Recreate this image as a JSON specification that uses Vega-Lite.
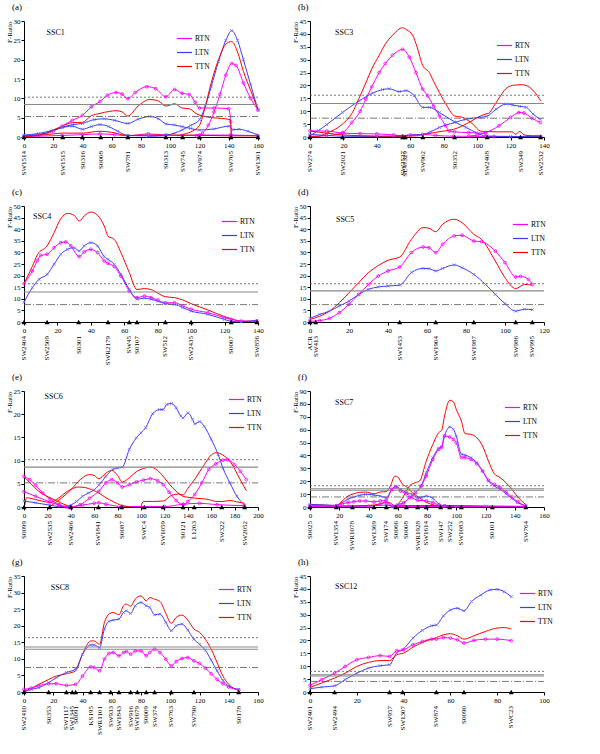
{
"$schema":"https://vega.github.io/schema/vega-lite/v6.json",
"background":"white",
"padding":{"left":5,"top":3,"right":0,"bottom":0},
"columns":2,
"spacing":{"row":69,"column":52},
"bounds":"flush",
"resolve":{"scale":{"color":"independent"}},
"config":{
 "view":{"stroke":null},
 "font":"Liberation Serif",
 "axis":{"labelFont":"Liberation Serif","labelFontSize":7,"labelColor":"black","domainColor":"black","tickColor":"black","grid":false,"tickSize":3,"labelPadding":1,"titleFont":"Liberation Serif","titleFontSize":7,"titleFontWeight":"normal","titleColor":"black","labelFlush":false,"labelOverlap":false},
 "axisX":{"title":null},
 "axisY":{"titleAnchor":"end","titlePadding":1},
 "title":{"font":"Liberation Serif","fontSize":9,"fontWeight":"normal","anchor":"start","frame":"group","dx":-12,"offset":5,"color":"black"},
 "legend":{"labelFont":"Liberation Serif","labelFontSize":7.5,"labelColor":"black","symbolType":"stroke","symbolSize":225,"symbolStrokeWidth":1.2,"rowPadding":2,"labelOffset":2},
 "text":{"color":"black","font":"Liberation Serif"}
},
"datasets":{
"a":[
{"t":"RTN","c":1,"x":0,"y":0.1},{"t":"RTN","c":1,"x":10,"y":0.5},{"t":"RTN","c":1,"x":20,"y":1.5},{"t":"RTN","c":1,"x":26,"y":2.8},{"t":"RTN","c":1,"x":33,"y":4.3},{"t":"RTN","c":1,"x":40,"y":5.6},{"t":"RTN","c":1,"x":46,"y":7.8},{"t":"RTN","c":1,"x":52,"y":9.2},{"t":"RTN","c":1,"x":57,"y":10.8},{"t":"RTN","c":1,"x":63,"y":11.5},{"t":"RTN","c":1,"x":67,"y":11.1},{"t":"RTN","c":1,"x":71,"y":9.9},{"t":"RTN","c":1,"x":76,"y":11.5},{"t":"RTN","c":1,"x":84,"y":13},{"t":"RTN","c":1,"x":90,"y":12.5},{"t":"RTN","c":1,"x":97,"y":10.4},{"t":"RTN","c":1,"x":103,"y":12.3},{"t":"RTN","c":1,"x":108,"y":11.3},{"t":"RTN","c":1,"x":113,"y":11},{"t":"RTN","c":1,"x":117,"y":9},{"t":"RTN","c":1,"x":120,"y":7.5},{"t":"RTN","c":1,"x":130,"y":7.5},{"t":"RTN","c":1,"x":140,"y":7.3},{"t":"RTN","c":1,"x":141.3,"y":4},{"t":"RTN","c":1,"x":141.8,"y":0.4},
{"t":"RTN","c":2,"x":118,"y":0.3},{"t":"RTN","c":2,"x":122,"y":1},{"t":"RTN","c":2,"x":126,"y":3},{"t":"RTN","c":2,"x":130,"y":6.5},{"t":"RTN","c":2,"x":134,"y":11},{"t":"RTN","c":2,"x":138,"y":16},{"t":"RTN","c":2,"x":142,"y":19},{"t":"RTN","c":2,"x":145,"y":18.5},{"t":"RTN","c":2,"x":150,"y":14},{"t":"RTN","c":2,"x":155,"y":10},{"t":"RTN","c":2,"x":160,"y":7},
{"t":"RTN","c":3,"x":0,"y":0.1},{"t":"RTN","c":3,"x":26,"y":0.4},{"t":"RTN","c":3,"x":40,"y":0.6},{"t":"RTN","c":3,"x":52,"y":0.8},{"t":"RTN","c":3,"x":62,"y":0.6},{"t":"RTN","c":3,"x":71,"y":0.3},{"t":"RTN","c":3,"x":85,"y":0.8},{"t":"RTN","c":3,"x":97,"y":0.5},{"t":"RTN","c":3,"x":108,"y":0.4},{"t":"RTN","c":3,"x":120,"y":0.5},{"t":"RTN","c":3,"x":141,"y":0.5},{"t":"RTN","c":3,"x":160,"y":0.3},
{"t":"LTN","c":1,"x":0,"y":0.5},{"t":"LTN","c":1,"x":10,"y":0.9},{"t":"LTN","c":1,"x":20,"y":1.8},{"t":"LTN","c":1,"x":26,"y":2.5},{"t":"LTN","c":1,"x":33,"y":3.2},{"t":"LTN","c":1,"x":40,"y":3.5},{"t":"LTN","c":1,"x":48,"y":4.5},{"t":"LTN","c":1,"x":55,"y":4.7},{"t":"LTN","c":1,"x":62,"y":4.3},{"t":"LTN","c":1,"x":71,"y":3.5},{"t":"LTN","c":1,"x":78,"y":4.6},{"t":"LTN","c":1,"x":86,"y":5.3},{"t":"LTN","c":1,"x":92,"y":4.7},{"t":"LTN","c":1,"x":97,"y":3.4},{"t":"LTN","c":1,"x":103,"y":3.1},{"t":"LTN","c":1,"x":108,"y":2.7},{"t":"LTN","c":1,"x":114,"y":2.2},{"t":"LTN","c":1,"x":120,"y":1.8},{"t":"LTN","c":1,"x":130,"y":2.1},{"t":"LTN","c":1,"x":140,"y":2.8},{"t":"LTN","c":1,"x":143,"y":1.9},{"t":"LTN","c":1,"x":147,"y":2},{"t":"LTN","c":1,"x":153,"y":1.5},{"t":"LTN","c":1,"x":160,"y":0.5},
{"t":"LTN","c":2,"x":0,"y":0.3},{"t":"LTN","c":2,"x":15,"y":1},{"t":"LTN","c":2,"x":26,"y":2.4},{"t":"LTN","c":2,"x":33,"y":2.8},{"t":"LTN","c":2,"x":40,"y":2},{"t":"LTN","c":2,"x":46,"y":2.7},{"t":"LTN","c":2,"x":52,"y":3.2},{"t":"LTN","c":2,"x":58,"y":2.7},{"t":"LTN","c":2,"x":64,"y":1.5},{"t":"LTN","c":2,"x":71,"y":0.4},{"t":"LTN","c":2,"x":85,"y":0.3},{"t":"LTN","c":2,"x":97,"y":0.3},
{"t":"LTN","c":3,"x":85,"y":0.2},{"t":"LTN","c":3,"x":97,"y":0.5},{"t":"LTN","c":3,"x":103,"y":1},{"t":"LTN","c":3,"x":108,"y":1.8},{"t":"LTN","c":3,"x":114,"y":3},{"t":"LTN","c":3,"x":120,"y":4.5},{"t":"LTN","c":3,"x":124,"y":8},{"t":"LTN","c":3,"x":128,"y":13},{"t":"LTN","c":3,"x":133,"y":19.5},{"t":"LTN","c":3,"x":138,"y":25},{"t":"LTN","c":3,"x":142,"y":27.5},{"t":"LTN","c":3,"x":146,"y":25},{"t":"LTN","c":3,"x":150,"y":20},{"t":"LTN","c":3,"x":155,"y":13.5},{"t":"LTN","c":3,"x":160,"y":7},
{"t":"TTN","c":1,"x":0,"y":0.2},{"t":"TTN","c":1,"x":10,"y":0.5},{"t":"TTN","c":1,"x":20,"y":1.8},{"t":"TTN","c":1,"x":26,"y":2.8},{"t":"TTN","c":1,"x":33,"y":3.7},{"t":"TTN","c":1,"x":40,"y":3.8},{"t":"TTN","c":1,"x":46,"y":5.5},{"t":"TTN","c":1,"x":52,"y":6.1},{"t":"TTN","c":1,"x":58,"y":6.6},{"t":"TTN","c":1,"x":63,"y":6.8},{"t":"TTN","c":1,"x":67,"y":6.5},{"t":"TTN","c":1,"x":71,"y":5.4},{"t":"TTN","c":1,"x":78,"y":8},{"t":"TTN","c":1,"x":86,"y":9.7},{"t":"TTN","c":1,"x":92,"y":9.3},{"t":"TTN","c":1,"x":97,"y":8},{"t":"TTN","c":1,"x":103,"y":8.6},{"t":"TTN","c":1,"x":108,"y":7.5},{"t":"TTN","c":1,"x":113,"y":7.3},{"t":"TTN","c":1,"x":118,"y":6},{"t":"TTN","c":1,"x":125,"y":5.2},{"t":"TTN","c":1,"x":135,"y":4.8},{"t":"TTN","c":1,"x":141,"y":4.5},{"t":"TTN","c":1,"x":141.8,"y":0.3},
{"t":"TTN","c":2,"x":105,"y":0.3},{"t":"TTN","c":2,"x":110,"y":0.8},{"t":"TTN","c":2,"x":115,"y":1.5},{"t":"TTN","c":2,"x":120,"y":3},{"t":"TTN","c":2,"x":124,"y":8},{"t":"TTN","c":2,"x":128,"y":14},{"t":"TTN","c":2,"x":133,"y":20},{"t":"TTN","c":2,"x":138,"y":24},{"t":"TTN","c":2,"x":142,"y":24.7},{"t":"TTN","c":2,"x":146,"y":22},{"t":"TTN","c":2,"x":150,"y":17},{"t":"TTN","c":2,"x":155,"y":12},{"t":"TTN","c":2,"x":160,"y":7},
{"t":"TTN","c":3,"x":0,"y":0.1},{"t":"TTN","c":3,"x":20,"y":0.8},{"t":"TTN","c":3,"x":26,"y":1},{"t":"TTN","c":3,"x":40,"y":1},{"t":"TTN","c":3,"x":52,"y":1.5},{"t":"TTN","c":3,"x":60,"y":1.2},{"t":"TTN","c":3,"x":71,"y":0.4},{"t":"TTN","c":3,"x":85,"y":0.5},{"t":"TTN","c":3,"x":108,"y":0.5},{"t":"TTN","c":3,"x":141,"y":0.3},{"t":"TTN","c":3,"x":160,"y":0.3}
],
"a_m":[{"m":"SW1514","x":0},{"m":"SW1515","x":26.5},{"m":"S0316","x":40},{"m":"S0008","x":52.5},{"m":"SW781","x":71},{"m":"S0313","x":97},{"m":"SW745","x":108.5},{"m":"SW974","x":120},{"m":"SW705","x":141.5},{"m":"SW1301","x":160}],
"a_t":[{"k":"dot","y":10.3},{"k":"solid","y":8.4},{"k":"dash","y":5.3}],
"b":[
{"t":"RTN","c":1,"x":0,"y":0.2},{"t":"RTN","c":1,"x":10,"y":0.5},{"t":"RTN","c":1,"x":19.4,"y":1.7},{"t":"RTN","c":1,"x":25,"y":5.6},{"t":"RTN","c":1,"x":30,"y":10},{"t":"RTN","c":1,"x":33.4,"y":14.7},{"t":"RTN","c":1,"x":37,"y":19.5},{"t":"RTN","c":1,"x":41.4,"y":25},{"t":"RTN","c":1,"x":45,"y":28.5},{"t":"RTN","c":1,"x":49.4,"y":31.7},{"t":"RTN","c":1,"x":55.4,"y":34},{"t":"RTN","c":1,"x":59.4,"y":31},{"t":"RTN","c":1,"x":63.4,"y":25},{"t":"RTN","c":1,"x":67.4,"y":18.6},{"t":"RTN","c":1,"x":70.4,"y":16},{"t":"RTN","c":1,"x":74,"y":12},{"t":"RTN","c":1,"x":77.4,"y":8.2},{"t":"RTN","c":1,"x":81,"y":4.5},{"t":"RTN","c":1,"x":83.4,"y":2.3},{"t":"RTN","c":1,"x":86.4,"y":2},{"t":"RTN","c":1,"x":95,"y":1.7},{"t":"RTN","c":1,"x":105,"y":1.5},
{"t":"RTN","c":2,"x":95,"y":0.3},{"t":"RTN","c":2,"x":100,"y":0.8},{"t":"RTN","c":2,"x":105,"y":1.7},{"t":"RTN","c":2,"x":113,"y":4.3},{"t":"RTN","c":2,"x":120,"y":7.6},{"t":"RTN","c":2,"x":125,"y":9.5},{"t":"RTN","c":2,"x":128,"y":9.3},{"t":"RTN","c":2,"x":133,"y":7.2},{"t":"RTN","c":2,"x":137.8,"y":5.6},
{"t":"RTN","c":3,"x":0,"y":2.4},{"t":"RTN","c":3,"x":10,"y":2.3},{"t":"RTN","c":3,"x":20,"y":1.5},{"t":"RTN","c":3,"x":30,"y":1.3},{"t":"RTN","c":3,"x":40,"y":1.2},{"t":"RTN","c":3,"x":50,"y":0.8},{"t":"RTN","c":3,"x":55.4,"y":0.5},{"t":"RTN","c":3,"x":60,"y":0.8},{"t":"RTN","c":3,"x":67.4,"y":1},{"t":"RTN","c":3,"x":75,"y":0.6},{"t":"RTN","c":3,"x":86,"y":0.3},{"t":"RTN","c":3,"x":110,"y":0.2},{"t":"RTN","c":3,"x":138,"y":0.2},
{"t":"LTN","c":1,"x":0,"y":0.5},{"t":"LTN","c":1,"x":5,"y":2.5},{"t":"LTN","c":1,"x":10,"y":4.8},{"t":"LTN","c":1,"x":19.4,"y":9.5},{"t":"LTN","c":1,"x":29.4,"y":14},{"t":"LTN","c":1,"x":37.4,"y":17},{"t":"LTN","c":1,"x":43.4,"y":18.4},{"t":"LTN","c":1,"x":47.4,"y":18.7},{"t":"LTN","c":1,"x":53.4,"y":17.6},{"t":"LTN","c":1,"x":57.4,"y":18},{"t":"LTN","c":1,"x":62.4,"y":16},{"t":"LTN","c":1,"x":67.4,"y":11.5},{"t":"LTN","c":1,"x":71.4,"y":11.5},{"t":"LTN","c":1,"x":77.4,"y":9.5},{"t":"LTN","c":1,"x":86.4,"y":5.9},{"t":"LTN","c":1,"x":93.4,"y":3.7},{"t":"LTN","c":1,"x":99.4,"y":1.7},{"t":"LTN","c":1,"x":105.4,"y":0.4},{"t":"LTN","c":1,"x":120,"y":0.2},{"t":"LTN","c":1,"x":138,"y":0.2},
{"t":"LTN","c":2,"x":50,"y":0.3},{"t":"LTN","c":2,"x":59,"y":0.6},{"t":"LTN","c":2,"x":67.4,"y":1},{"t":"LTN","c":2,"x":72,"y":2},{"t":"LTN","c":2,"x":77.4,"y":3.7},{"t":"LTN","c":2,"x":86.4,"y":5.6},{"t":"LTN","c":2,"x":93.4,"y":6.9},{"t":"LTN","c":2,"x":101.4,"y":7.6},{"t":"LTN","c":2,"x":105.8,"y":8},{"t":"LTN","c":2,"x":111.4,"y":10.8},{"t":"LTN","c":2,"x":117.4,"y":12.8},{"t":"LTN","c":2,"x":121.4,"y":12.4},{"t":"LTN","c":2,"x":125.4,"y":11.9},{"t":"LTN","c":2,"x":129.4,"y":11.5},{"t":"LTN","c":2,"x":133.4,"y":8.9},{"t":"LTN","c":2,"x":137.8,"y":6.9},
{"t":"LTN","c":3,"x":0,"y":1},{"t":"LTN","c":3,"x":10,"y":0.6},{"t":"LTN","c":3,"x":20,"y":0.3},{"t":"LTN","c":3,"x":40,"y":0.2},{"t":"LTN","c":3,"x":55,"y":0.3},
{"t":"TTN","c":1,"x":0,"y":0.2},{"t":"TTN","c":1,"x":5,"y":0.3},{"t":"TTN","c":1,"x":10,"y":1.5},{"t":"TTN","c":1,"x":19.4,"y":5},{"t":"TTN","c":1,"x":25.4,"y":9.5},{"t":"TTN","c":1,"x":29,"y":14.5},{"t":"TTN","c":1,"x":33.4,"y":21},{"t":"TTN","c":1,"x":37,"y":26.5},{"t":"TTN","c":1,"x":41.4,"y":31.7},{"t":"TTN","c":1,"x":45,"y":36},{"t":"TTN","c":1,"x":49.4,"y":39.5},{"t":"TTN","c":1,"x":55.4,"y":42.4},{"t":"TTN","c":1,"x":58,"y":41.5},{"t":"TTN","c":1,"x":61.4,"y":39.5},{"t":"TTN","c":1,"x":64,"y":35},{"t":"TTN","c":1,"x":67.4,"y":27.8},{"t":"TTN","c":1,"x":71.4,"y":25},{"t":"TTN","c":1,"x":74,"y":21.5},{"t":"TTN","c":1,"x":77.4,"y":17.3},{"t":"TTN","c":1,"x":82,"y":12},{"t":"TTN","c":1,"x":86.4,"y":8.2},{"t":"TTN","c":1,"x":91.4,"y":7.6},{"t":"TTN","c":1,"x":97.4,"y":5},{"t":"TTN","c":1,"x":102,"y":2.3},{"t":"TTN","c":1,"x":105.8,"y":2.1},{"t":"TTN","c":1,"x":113,"y":2},{"t":"TTN","c":1,"x":121,"y":2},{"t":"TTN","c":1,"x":123,"y":1},{"t":"TTN","c":1,"x":125.4,"y":2.2},{"t":"TTN","c":1,"x":128,"y":0.8},{"t":"TTN","c":1,"x":133,"y":0.5},{"t":"TTN","c":1,"x":138,"y":0.5},
{"t":"TTN","c":2,"x":65,"y":0.6},{"t":"TTN","c":2,"x":75,"y":1.8},{"t":"TTN","c":2,"x":80,"y":2.3},{"t":"TTN","c":2,"x":86,"y":3},{"t":"TTN","c":2,"x":95,"y":5.6},{"t":"TTN","c":2,"x":100,"y":7.5},{"t":"TTN","c":2,"x":105,"y":8.9},{"t":"TTN","c":2,"x":107,"y":9.2},{"t":"TTN","c":2,"x":110,"y":12},{"t":"TTN","c":2,"x":114,"y":16},{"t":"TTN","c":2,"x":117,"y":18.6},{"t":"TTN","c":2,"x":121,"y":20},{"t":"TTN","c":2,"x":124,"y":20.2},{"t":"TTN","c":2,"x":127,"y":20.3},{"t":"TTN","c":2,"x":130,"y":19.8},{"t":"TTN","c":2,"x":133,"y":18.4},{"t":"TTN","c":2,"x":136,"y":16},{"t":"TTN","c":2,"x":138,"y":14},
{"t":"TTN","c":3,"x":0,"y":2.3},{"t":"TTN","c":3,"x":10,"y":1.5},{"t":"TTN","c":3,"x":20,"y":0.8},{"t":"TTN","c":3,"x":30,"y":0.5},{"t":"TTN","c":3,"x":55,"y":0.3},{"t":"TTN","c":3,"x":65,"y":0.5}
],
"b_m":[{"m":"SW274","x":0},{"m":"SW2021","x":19.5},{"m":"SW2527","x":55.4},{"m":"SE47329","x":57},{"m":"SW902","x":67.5},{"m":"S0352","x":86.5},{"m":"SW2408","x":106},{"m":"SW349","x":126},{"m":"SW2532","x":138}],
"b_t":[{"k":"dot","y":16.2},{"k":"solid","y":13},{"k":"dash","y":7.3}],
"c":[
{"t":"TTN","c":1,"x":0,"y":16.5},{"t":"TTN","c":1,"x":5,"y":24},{"t":"TTN","c":1,"x":8,"y":29},{"t":"TTN","c":1,"x":13.8,"y":32.8},{"t":"TTN","c":1,"x":18,"y":38.5},{"t":"TTN","c":1,"x":22,"y":44.5},{"t":"TTN","c":1,"x":26,"y":46.8},{"t":"TTN","c":1,"x":30,"y":46},{"t":"TTN","c":1,"x":33,"y":43.5},{"t":"TTN","c":1,"x":36,"y":45.7},{"t":"TTN","c":1,"x":40,"y":47.4},{"t":"TTN","c":1,"x":44,"y":46},{"t":"TTN","c":1,"x":48,"y":41.4},{"t":"TTN","c":1,"x":50.3,"y":37},{"t":"TTN","c":1,"x":54,"y":35.6},{"t":"TTN","c":1,"x":58,"y":29.9},{"t":"TTN","c":1,"x":63,"y":21.3},{"t":"TTN","c":1,"x":67.6,"y":14},{"t":"TTN","c":1,"x":72,"y":14.4},{"t":"TTN","c":1,"x":76,"y":14},{"t":"TTN","c":1,"x":80,"y":12.4},{"t":"TTN","c":1,"x":84.6,"y":10.9},{"t":"TTN","c":1,"x":90,"y":10.5},{"t":"TTN","c":1,"x":95,"y":9.5},{"t":"TTN","c":1,"x":100,"y":7.9},{"t":"TTN","c":1,"x":110,"y":5.2},{"t":"TTN","c":1,"x":120,"y":2.3},{"t":"TTN","c":1,"x":124,"y":1.4},{"t":"TTN","c":1,"x":130,"y":0.4},{"t":"TTN","c":1,"x":139.4,"y":0.3},
{"t":"RTN","c":1,"x":0,"y":16.5},{"t":"RTN","c":1,"x":5,"y":22},{"t":"RTN","c":1,"x":8,"y":26.5},{"t":"RTN","c":1,"x":10,"y":28.7},{"t":"RTN","c":1,"x":13.8,"y":29.2},{"t":"RTN","c":1,"x":18,"y":32},{"t":"RTN","c":1,"x":22,"y":34.2},{"t":"RTN","c":1,"x":25,"y":34.5},{"t":"RTN","c":1,"x":28,"y":32.8},{"t":"RTN","c":1,"x":33,"y":28.2},{"t":"RTN","c":1,"x":36,"y":30.2},{"t":"RTN","c":1,"x":40,"y":31.3},{"t":"RTN","c":1,"x":44,"y":29.9},{"t":"RTN","c":1,"x":48,"y":26.3},{"t":"RTN","c":1,"x":50.3,"y":25.3},{"t":"RTN","c":1,"x":54,"y":23.9},{"t":"RTN","c":1,"x":58,"y":19.8},{"t":"RTN","c":1,"x":63,"y":13.4},{"t":"RTN","c":1,"x":67.6,"y":10.5},{"t":"RTN","c":1,"x":72,"y":11.2},{"t":"RTN","c":1,"x":76,"y":10.5},{"t":"RTN","c":1,"x":80,"y":9.5},{"t":"RTN","c":1,"x":84.6,"y":8.3},{"t":"RTN","c":1,"x":90,"y":8.3},{"t":"RTN","c":1,"x":95,"y":6.9},{"t":"RTN","c":1,"x":100,"y":5.5},{"t":"RTN","c":1,"x":110,"y":4},{"t":"RTN","c":1,"x":120,"y":1.9},{"t":"RTN","c":1,"x":124,"y":1.1},{"t":"RTN","c":1,"x":130,"y":0.4},{"t":"RTN","c":1,"x":139.4,"y":0.3},
{"t":"LTN","c":1,"x":0,"y":8.5},{"t":"LTN","c":1,"x":5,"y":14.8},{"t":"LTN","c":1,"x":9,"y":18.4},{"t":"LTN","c":1,"x":13.8,"y":20.5},{"t":"LTN","c":1,"x":18,"y":24.9},{"t":"LTN","c":1,"x":22,"y":29.2},{"t":"LTN","c":1,"x":26,"y":31.3},{"t":"LTN","c":1,"x":30,"y":32},{"t":"LTN","c":1,"x":33,"y":30.6},{"t":"LTN","c":1,"x":36,"y":32.8},{"t":"LTN","c":1,"x":40,"y":34.2},{"t":"LTN","c":1,"x":44,"y":32.8},{"t":"LTN","c":1,"x":48,"y":28.2},{"t":"LTN","c":1,"x":50.3,"y":27},{"t":"LTN","c":1,"x":54,"y":24.9},{"t":"LTN","c":1,"x":58,"y":20.5},{"t":"LTN","c":1,"x":63,"y":14.1},{"t":"LTN","c":1,"x":67.6,"y":9.8},{"t":"LTN","c":1,"x":72,"y":10.3},{"t":"LTN","c":1,"x":76,"y":9.8},{"t":"LTN","c":1,"x":80,"y":9},{"t":"LTN","c":1,"x":84.6,"y":7.9},{"t":"LTN","c":1,"x":90,"y":7.6},{"t":"LTN","c":1,"x":95,"y":6.2},{"t":"LTN","c":1,"x":100,"y":4.7},{"t":"LTN","c":1,"x":110,"y":3.3},{"t":"LTN","c":1,"x":120,"y":1.1},{"t":"LTN","c":1,"x":124,"y":0.3},{"t":"LTN","c":1,"x":130,"y":0.1},{"t":"LTN","c":1,"x":139.4,"y":0.8}
],
"c_m":[{"m":"SW2404","x":0},{"m":"SW2509","x":13.8},{"m":"S0301","x":32.7},{"m":"SWR2179","x":50.3},{"m":"SW45","x":63},{"m":"S0107","x":67.6},{"m":"SW512","x":84.6},{"m":"SW2435","x":100},{"m":"S0007","x":124},{"m":"SW856","x":139.4}],
"c_t":[{"k":"dot","y":16.5},{"k":"solid","y":12.9},{"k":"dash","y":7.5}],
"d":[
{"t":"TTN","c":1,"x":0,"y":1.1},{"t":"TTN","c":1,"x":5,"y":2.5},{"t":"TTN","c":1,"x":10,"y":4.7},{"t":"TTN","c":1,"x":15,"y":8.3},{"t":"TTN","c":1,"x":20,"y":12.6},{"t":"TTN","c":1,"x":25,"y":17},{"t":"TTN","c":1,"x":30,"y":21.3},{"t":"TTN","c":1,"x":35,"y":24.3},{"t":"TTN","c":1,"x":40,"y":26.6},{"t":"TTN","c":1,"x":46,"y":28},{"t":"TTN","c":1,"x":52,"y":35.6},{"t":"TTN","c":1,"x":58,"y":40.7},{"t":"TTN","c":1,"x":61,"y":40.4},{"t":"TTN","c":1,"x":64.5,"y":38.9},{"t":"TTN","c":1,"x":68,"y":42.1},{"t":"TTN","c":1,"x":74,"y":44.3},{"t":"TTN","c":1,"x":78,"y":42.8},{"t":"TTN","c":1,"x":84,"y":37.8},{"t":"TTN","c":1,"x":88,"y":35.6},{"t":"TTN","c":1,"x":95,"y":26.3},{"t":"TTN","c":1,"x":100,"y":19.1},{"t":"TTN","c":1,"x":105.5,"y":14.4},{"t":"TTN","c":1,"x":110,"y":16.2},{"t":"TTN","c":1,"x":114,"y":15.9},
{"t":"RTN","c":1,"x":0,"y":0.3},{"t":"RTN","c":1,"x":5,"y":0.6},{"t":"RTN","c":1,"x":10,"y":1.6},{"t":"RTN","c":1,"x":15,"y":4},{"t":"RTN","c":1,"x":20,"y":7.6},{"t":"RTN","c":1,"x":25,"y":11.9},{"t":"RTN","c":1,"x":30,"y":16.2},{"t":"RTN","c":1,"x":35,"y":19.8},{"t":"RTN","c":1,"x":40,"y":22},{"t":"RTN","c":1,"x":46,"y":23.7},{"t":"RTN","c":1,"x":52,"y":29.9},{"t":"RTN","c":1,"x":58,"y":32.3},{"t":"RTN","c":1,"x":61,"y":32},{"t":"RTN","c":1,"x":64.5,"y":29.9},{"t":"RTN","c":1,"x":68,"y":33.5},{"t":"RTN","c":1,"x":74,"y":37.1},{"t":"RTN","c":1,"x":78,"y":37.4},{"t":"RTN","c":1,"x":84,"y":34.9},{"t":"RTN","c":1,"x":88,"y":34.6},{"t":"RTN","c":1,"x":95,"y":30.6},{"t":"RTN","c":1,"x":100,"y":25.6},{"t":"RTN","c":1,"x":105.5,"y":19.4},{"t":"RTN","c":1,"x":108,"y":19.7},{"t":"RTN","c":1,"x":112,"y":18.4},{"t":"RTN","c":1,"x":114,"y":16.2},
{"t":"LTN","c":1,"x":0,"y":1.6},{"t":"LTN","c":1,"x":5,"y":3.3},{"t":"LTN","c":1,"x":10,"y":4.7},{"t":"LTN","c":1,"x":15,"y":6.9},{"t":"LTN","c":1,"x":20,"y":9},{"t":"LTN","c":1,"x":25,"y":11.9},{"t":"LTN","c":1,"x":30,"y":14.1},{"t":"LTN","c":1,"x":35,"y":15.1},{"t":"LTN","c":1,"x":40,"y":15.5},{"t":"LTN","c":1,"x":46,"y":15.9},{"t":"LTN","c":1,"x":52,"y":21.3},{"t":"LTN","c":1,"x":58,"y":23.1},{"t":"LTN","c":1,"x":61,"y":23},{"t":"LTN","c":1,"x":64.5,"y":22},{"t":"LTN","c":1,"x":68,"y":23.1},{"t":"LTN","c":1,"x":74,"y":24.6},{"t":"LTN","c":1,"x":78,"y":23.4},{"t":"LTN","c":1,"x":84,"y":20.5},{"t":"LTN","c":1,"x":90,"y":16.2},{"t":"LTN","c":1,"x":95,"y":11.9},{"t":"LTN","c":1,"x":100,"y":7.9},{"t":"LTN","c":1,"x":105.5,"y":4.7},{"t":"LTN","c":1,"x":110,"y":5.5},{"t":"LTN","c":1,"x":114,"y":5.3}
],
"d_m":[{"m":"ACR","x":0},{"m":"SW413","x":2.9},{"m":"SW1453","x":46},{"m":"SW1904","x":64.5},{"m":"SW1987","x":84},{"m":"SW986","x":105.5},{"m":"SW995","x":114}],
"d_t":[{"k":"dot","y":16.5},{"k":"solid","y":13.4},{"k":"dash","y":7.5}],
"e":[
{"t":"LTN","c":1,"x":38,"y":0.1},{"t":"LTN","c":1,"x":40,"y":0.4},{"t":"LTN","c":1,"x":45,"y":1.2},{"t":"LTN","c":1,"x":50,"y":2.3},{"t":"LTN","c":1,"x":55,"y":3},{"t":"LTN","c":1,"x":60,"y":3.7},{"t":"LTN","c":1,"x":64,"y":4.7},{"t":"LTN","c":1,"x":70,"y":6.6},{"t":"LTN","c":1,"x":76,"y":8.1},{"t":"LTN","c":1,"x":80,"y":8.4},{"t":"LTN","c":1,"x":84,"y":8.6},{"t":"LTN","c":1,"x":90,"y":12.4},{"t":"LTN","c":1,"x":96,"y":14.9},{"t":"LTN","c":1,"x":100,"y":16},{"t":"LTN","c":1,"x":104,"y":17.1},{"t":"LTN","c":1,"x":110,"y":20.1},{"t":"LTN","c":1,"x":116,"y":21},{"t":"LTN","c":1,"x":119,"y":21},{"t":"LTN","c":1,"x":122,"y":22.1},{"t":"LTN","c":1,"x":126,"y":22.3},{"t":"LTN","c":1,"x":130,"y":21.4},{"t":"LTN","c":1,"x":134,"y":19.6},{"t":"LTN","c":1,"x":136,"y":19.2},{"t":"LTN","c":1,"x":140,"y":20.3},{"t":"LTN","c":1,"x":144,"y":18.9},{"t":"LTN","c":1,"x":146,"y":17.9},{"t":"LTN","c":1,"x":150,"y":18.4},{"t":"LTN","c":1,"x":154,"y":17.4},{"t":"LTN","c":1,"x":160,"y":14.6},{"t":"LTN","c":1,"x":166,"y":11.3},{"t":"LTN","c":1,"x":170,"y":8.4},{"t":"LTN","c":1,"x":176,"y":5.2},{"t":"LTN","c":1,"x":182,"y":2.3},{"t":"LTN","c":1,"x":188.6,"y":0.4},
{"t":"LTN","c":2,"x":0,"y":1.3},{"t":"LTN","c":2,"x":10,"y":0.9},{"t":"LTN","c":2,"x":22,"y":0.4},{"t":"LTN","c":2,"x":30,"y":0.1},{"t":"LTN","c":2,"x":40,"y":0.05},
{"t":"RTN","c":1,"x":0,"y":6.6},{"t":"RTN","c":1,"x":5,"y":5.9},{"t":"RTN","c":1,"x":10,"y":4.7},{"t":"RTN","c":1,"x":16,"y":3},{"t":"RTN","c":1,"x":22,"y":1.8},{"t":"RTN","c":1,"x":30,"y":0.5},{"t":"RTN","c":1,"x":36,"y":0},
{"t":"RTN","c":2,"x":0,"y":3.3},{"t":"RTN","c":2,"x":10,"y":2.3},{"t":"RTN","c":2,"x":22,"y":1.1},{"t":"RTN","c":2,"x":30,"y":0.4},{"t":"RTN","c":2,"x":38,"y":0},
{"t":"RTN","c":3,"x":40,"y":0},{"t":"RTN","c":3,"x":48,"y":0.5},{"t":"RTN","c":3,"x":56,"y":1.9},{"t":"RTN","c":3,"x":64,"y":3.4},{"t":"RTN","c":3,"x":70,"y":5.2},{"t":"RTN","c":3,"x":75,"y":5.9},{"t":"RTN","c":3,"x":80,"y":5.2},{"t":"RTN","c":3,"x":84,"y":4.3},{"t":"RTN","c":3,"x":90,"y":4.8},{"t":"RTN","c":3,"x":96,"y":5.4},{"t":"RTN","c":3,"x":102,"y":5.8},{"t":"RTN","c":3,"x":108,"y":6.1},{"t":"RTN","c":3,"x":114,"y":5.7},{"t":"RTN","c":3,"x":119,"y":4.8},{"t":"RTN","c":3,"x":124,"y":3.2},{"t":"RTN","c":3,"x":130,"y":1.4},{"t":"RTN","c":3,"x":136,"y":0.5},{"t":"RTN","c":3,"x":140,"y":1.2},{"t":"RTN","c":3,"x":146,"y":2.7},{"t":"RTN","c":3,"x":152,"y":5.2},{"t":"RTN","c":3,"x":158,"y":8.1},{"t":"RTN","c":3,"x":164,"y":9.3},{"t":"RTN","c":3,"x":170,"y":10.1},{"t":"RTN","c":3,"x":174,"y":10.2},{"t":"RTN","c":3,"x":180,"y":9.1},{"t":"RTN","c":3,"x":185,"y":7.7},{"t":"RTN","c":3,"x":190,"y":5.9},
{"t":"RTN","c":4,"x":40,"y":0},{"t":"RTN","c":4,"x":50,"y":0.4},{"t":"RTN","c":4,"x":60,"y":0.8},{"t":"RTN","c":4,"x":64,"y":0.9},{"t":"RTN","c":4,"x":70,"y":0.6},{"t":"RTN","c":4,"x":84,"y":0.1},{"t":"RTN","c":4,"x":120,"y":0.1},{"t":"RTN","c":4,"x":136,"y":0.6},{"t":"RTN","c":4,"x":150,"y":0.8},{"t":"RTN","c":4,"x":165,"y":0.5},{"t":"RTN","c":4,"x":188,"y":0.3},
{"t":"TTN","c":1,"x":0,"y":6.5},{"t":"TTN","c":1,"x":6,"y":5},{"t":"TTN","c":1,"x":12,"y":3.5},{"t":"TTN","c":1,"x":18,"y":2.5},{"t":"TTN","c":1,"x":22,"y":2},{"t":"TTN","c":1,"x":28,"y":1.3},{"t":"TTN","c":1,"x":34,"y":0.6},{"t":"TTN","c":1,"x":40,"y":0.1},
{"t":"TTN","c":2,"x":1,"y":0.5},{"t":"TTN","c":2,"x":2,"y":2},{"t":"TTN","c":2,"x":10,"y":1.6},{"t":"TTN","c":2,"x":22,"y":1},{"t":"TTN","c":2,"x":30,"y":2},{"t":"TTN","c":2,"x":36,"y":3.2},{"t":"TTN","c":2,"x":40,"y":3.8},{"t":"TTN","c":2,"x":46,"y":4.3},{"t":"TTN","c":2,"x":52,"y":4.2},{"t":"TTN","c":2,"x":58,"y":3.7},{"t":"TTN","c":2,"x":64,"y":3},{"t":"TTN","c":2,"x":70,"y":2},{"t":"TTN","c":2,"x":76,"y":1.2},{"t":"TTN","c":2,"x":84,"y":0.3},{"t":"TTN","c":2,"x":90,"y":0.1},
{"t":"TTN","c":3,"x":22,"y":0.1},{"t":"TTN","c":3,"x":30,"y":1.5},{"t":"TTN","c":3,"x":40,"y":3.7},{"t":"TTN","c":3,"x":48,"y":5.9},{"t":"TTN","c":3,"x":56,"y":7},{"t":"TTN","c":3,"x":60,"y":6.8},{"t":"TTN","c":3,"x":64,"y":6.1},{"t":"TTN","c":3,"x":70,"y":7.3},{"t":"TTN","c":3,"x":75,"y":7.9},{"t":"TTN","c":3,"x":80,"y":6.8},{"t":"TTN","c":3,"x":84,"y":5.4},{"t":"TTN","c":3,"x":90,"y":6.3},{"t":"TTN","c":3,"x":96,"y":7.6},{"t":"TTN","c":3,"x":102,"y":8.3},{"t":"TTN","c":3,"x":108,"y":8.6},{"t":"TTN","c":3,"x":114,"y":7.9},{"t":"TTN","c":3,"x":119,"y":6.6},{"t":"TTN","c":3,"x":124,"y":5},{"t":"TTN","c":3,"x":130,"y":3.4},{"t":"TTN","c":3,"x":136,"y":2.3},{"t":"TTN","c":3,"x":140,"y":2.1},{"t":"TTN","c":3,"x":146,"y":1.9},{"t":"TTN","c":3,"x":152,"y":1.8},{"t":"TTN","c":3,"x":158,"y":1.6},{"t":"TTN","c":3,"x":164,"y":1.2},{"t":"TTN","c":3,"x":170,"y":1.2},{"t":"TTN","c":3,"x":176,"y":1.4},{"t":"TTN","c":3,"x":182,"y":1.1},{"t":"TTN","c":3,"x":188.6,"y":0.8},
{"t":"TTN","c":4,"x":100,"y":0.1},{"t":"TTN","c":4,"x":102,"y":1.2},{"t":"TTN","c":4,"x":110,"y":1.2},{"t":"TTN","c":4,"x":119,"y":1.3},{"t":"TTN","c":4,"x":126,"y":2.5},{"t":"TTN","c":4,"x":132,"y":2.8},{"t":"TTN","c":4,"x":136,"y":2.6},{"t":"TTN","c":4,"x":140,"y":4},{"t":"TTN","c":4,"x":146,"y":6},{"t":"TTN","c":4,"x":154,"y":9.1},{"t":"TTN","c":4,"x":160,"y":11.2},{"t":"TTN","c":4,"x":164,"y":11.7},{"t":"TTN","c":4,"x":170,"y":11.2},{"t":"TTN","c":4,"x":177,"y":9.5},{"t":"TTN","c":4,"x":184,"y":6.3},{"t":"TTN","c":4,"x":190,"y":3.5}
],
"e_m":[{"m":"S0099","x":0},{"m":"SW2535","x":22},{"m":"SW2406","x":40},{"m":"SW1841","x":63.6},{"m":"S0087","x":83.5},{"m":"SWC4","x":102.8},{"m":"SW1059","x":119},{"m":"S0121","x":136},{"m":"L1203","x":145.5},{"m":"SW322","x":169},{"m":"SW2052","x":188.6}],
"e_t":[{"k":"dot","y":10.2},{"k":"solid","y":8.6},{"k":"dash","y":5.2}],
"f":[
{"t":"TTN","c":1,"x":0,"y":2},{"t":"TTN","c":1,"x":10,"y":1.5},{"t":"TTN","c":1,"x":18,"y":1.2},{"t":"TTN","c":1,"x":22,"y":4.7},{"t":"TTN","c":1,"x":26,"y":8.5},{"t":"TTN","c":1,"x":30,"y":10.3},{"t":"TTN","c":1,"x":34,"y":11.4},{"t":"TTN","c":1,"x":38,"y":11.6},{"t":"TTN","c":1,"x":43.8,"y":10.3},{"t":"TTN","c":1,"x":48,"y":11.6},{"t":"TTN","c":1,"x":52,"y":11.9},{"t":"TTN","c":1,"x":55,"y":16.3},{"t":"TTN","c":1,"x":58,"y":24},{"t":"TTN","c":1,"x":60,"y":23.3},{"t":"TTN","c":1,"x":63,"y":18.1},{"t":"TTN","c":1,"x":66,"y":15.5},{"t":"TTN","c":1,"x":70,"y":11.1},{"t":"TTN","c":1,"x":75,"y":7},{"t":"TTN","c":1,"x":80,"y":3.4},{"t":"TTN","c":1,"x":85,"y":1.5},{"t":"TTN","c":1,"x":90,"y":0.8},
{"t":"TTN","c":2,"x":58,"y":0.5},{"t":"TTN","c":2,"x":60,"y":2},{"t":"TTN","c":2,"x":64,"y":8.5},{"t":"TTN","c":2,"x":68,"y":16.3},{"t":"TTN","c":2,"x":72,"y":18.9},{"t":"TTN","c":2,"x":75,"y":20.2},{"t":"TTN","c":2,"x":79.5,"y":35.7},{"t":"TTN","c":2,"x":84,"y":48.6},{"t":"TTN","c":2,"x":88,"y":57.7},{"t":"TTN","c":2,"x":90,"y":59.5},{"t":"TTN","c":2,"x":92,"y":70.6},{"t":"TTN","c":2,"x":95.5,"y":82.8},{"t":"TTN","c":2,"x":98,"y":81.7},{"t":"TTN","c":2,"x":100,"y":75.8},{"t":"TTN","c":2,"x":103.5,"y":66.7},{"t":"TTN","c":2,"x":106,"y":56.9},{"t":"TTN","c":2,"x":110,"y":56.4},{"t":"TTN","c":2,"x":114,"y":53.8},{"t":"TTN","c":2,"x":118,"y":47.3},{"t":"TTN","c":2,"x":122,"y":35.7},{"t":"TTN","c":2,"x":126,"y":25.9},{"t":"TTN","c":2,"x":130,"y":22.8},{"t":"TTN","c":2,"x":134,"y":18.9},{"t":"TTN","c":2,"x":138,"y":13.7},{"t":"TTN","c":2,"x":142,"y":7.8},{"t":"TTN","c":2,"x":147.5,"y":2},
{"t":"TTN","c":3,"x":0,"y":0.8},{"t":"TTN","c":3,"x":20,"y":0.8},{"t":"TTN","c":3,"x":40,"y":1.2},{"t":"TTN","c":3,"x":48,"y":2.5},{"t":"TTN","c":3,"x":52,"y":4},{"t":"TTN","c":3,"x":55,"y":3},{"t":"TTN","c":3,"x":58,"y":1},{"t":"TTN","c":3,"x":70,"y":0.5},{"t":"TTN","c":3,"x":100,"y":0.5},{"t":"TTN","c":3,"x":147,"y":0.3},
{"t":"LTN","c":1,"x":0,"y":2},{"t":"LTN","c":1,"x":10,"y":1.5},{"t":"LTN","c":1,"x":18,"y":1.2},{"t":"LTN","c":1,"x":22,"y":3.4},{"t":"LTN","c":1,"x":26,"y":6},{"t":"LTN","c":1,"x":30,"y":7.8},{"t":"LTN","c":1,"x":34,"y":9},{"t":"LTN","c":1,"x":38,"y":9.8},{"t":"LTN","c":1,"x":42,"y":9.8},{"t":"LTN","c":1,"x":43.8,"y":9.3},{"t":"LTN","c":1,"x":48,"y":8.5},{"t":"LTN","c":1,"x":52,"y":7.2},{"t":"LTN","c":1,"x":56,"y":13.7},{"t":"LTN","c":1,"x":58.6,"y":16.3},{"t":"LTN","c":1,"x":62,"y":13.7},{"t":"LTN","c":1,"x":66,"y":11.1},{"t":"LTN","c":1,"x":70,"y":9.8},{"t":"LTN","c":1,"x":73.6,"y":7.2},{"t":"LTN","c":1,"x":76,"y":7.5},{"t":"LTN","c":1,"x":79.5,"y":8.5},{"t":"LTN","c":1,"x":84,"y":6.7},{"t":"LTN","c":1,"x":88,"y":2.6},{"t":"LTN","c":1,"x":92,"y":0.5},{"t":"LTN","c":1,"x":100,"y":0.3},
{"t":"LTN","c":2,"x":56,"y":0.3},{"t":"LTN","c":2,"x":60,"y":2},{"t":"LTN","c":2,"x":64,"y":3.4},{"t":"LTN","c":2,"x":68,"y":7.2},{"t":"LTN","c":2,"x":72,"y":11.1},{"t":"LTN","c":2,"x":76,"y":16.3},{"t":"LTN","c":2,"x":79.5,"y":26.6},{"t":"LTN","c":2,"x":84,"y":38.3},{"t":"LTN","c":2,"x":88,"y":45.5},{"t":"LTN","c":2,"x":90,"y":46.5},{"t":"LTN","c":2,"x":92,"y":55.1},{"t":"LTN","c":2,"x":95.5,"y":62.1},{"t":"LTN","c":2,"x":98,"y":60.3},{"t":"LTN","c":2,"x":100,"y":55.1},{"t":"LTN","c":2,"x":103.5,"y":40.9},{"t":"LTN","c":2,"x":106,"y":40.3},{"t":"LTN","c":2,"x":110,"y":38.3},{"t":"LTN","c":2,"x":114,"y":34.4},{"t":"LTN","c":2,"x":118,"y":27.9},{"t":"LTN","c":2,"x":122,"y":20.2},{"t":"LTN","c":2,"x":126,"y":16.3},{"t":"LTN","c":2,"x":130,"y":13.7},{"t":"LTN","c":2,"x":134,"y":10.3},{"t":"LTN","c":2,"x":138,"y":6.7},{"t":"LTN","c":2,"x":142,"y":3.4},{"t":"LTN","c":2,"x":147.5,"y":0.8},
{"t":"LTN","c":3,"x":0,"y":0.8},{"t":"LTN","c":3,"x":30,"y":0.5},{"t":"LTN","c":3,"x":52,"y":1.5},{"t":"LTN","c":3,"x":56,"y":1},{"t":"LTN","c":3,"x":92,"y":1.2},{"t":"LTN","c":3,"x":120,"y":0.8},{"t":"LTN","c":3,"x":147,"y":0.5},
{"t":"RTN","c":1,"x":0,"y":1},{"t":"RTN","c":1,"x":18,"y":1},{"t":"RTN","c":1,"x":22,"y":2.5},{"t":"RTN","c":1,"x":26,"y":3.4},{"t":"RTN","c":1,"x":30,"y":4.1},{"t":"RTN","c":1,"x":34,"y":4.7},{"t":"RTN","c":1,"x":38,"y":4.7},{"t":"RTN","c":1,"x":43.8,"y":3.9},{"t":"RTN","c":1,"x":48,"y":4.7},{"t":"RTN","c":1,"x":52,"y":5.2},{"t":"RTN","c":1,"x":56,"y":13.7},{"t":"RTN","c":1,"x":58.6,"y":15.5},{"t":"RTN","c":1,"x":62,"y":12.4},{"t":"RTN","c":1,"x":66,"y":10.3},{"t":"RTN","c":1,"x":70,"y":7.2},{"t":"RTN","c":1,"x":73.6,"y":5.2},{"t":"RTN","c":1,"x":79.5,"y":4.7},{"t":"RTN","c":1,"x":84,"y":3.4},{"t":"RTN","c":1,"x":88,"y":1.6},{"t":"RTN","c":1,"x":92,"y":0.8},
{"t":"RTN","c":2,"x":58,"y":0.3},{"t":"RTN","c":2,"x":60,"y":1},{"t":"RTN","c":2,"x":64,"y":3},{"t":"RTN","c":2,"x":68,"y":7.2},{"t":"RTN","c":2,"x":72,"y":11.1},{"t":"RTN","c":2,"x":76,"y":16.3},{"t":"RTN","c":2,"x":79.5,"y":24},{"t":"RTN","c":2,"x":84,"y":37},{"t":"RTN","c":2,"x":88,"y":44.7},{"t":"RTN","c":2,"x":90,"y":46.5},{"t":"RTN","c":2,"x":92,"y":55.1},{"t":"RTN","c":2,"x":95.5,"y":54.3},{"t":"RTN","c":2,"x":98,"y":52.5},{"t":"RTN","c":2,"x":100,"y":49.9},{"t":"RTN","c":2,"x":103.5,"y":38.3},{"t":"RTN","c":2,"x":106,"y":38.3},{"t":"RTN","c":2,"x":110,"y":37},{"t":"RTN","c":2,"x":114,"y":33.6},{"t":"RTN","c":2,"x":118,"y":27.9},{"t":"RTN","c":2,"x":122,"y":20.7},{"t":"RTN","c":2,"x":126,"y":17.6},{"t":"RTN","c":2,"x":130,"y":15},{"t":"RTN","c":2,"x":134,"y":11.6},{"t":"RTN","c":2,"x":138,"y":7.8},{"t":"RTN","c":2,"x":142,"y":4.1},{"t":"RTN","c":2,"x":147.5,"y":0.8},
{"t":"RTN","c":3,"x":0,"y":0.5},{"t":"RTN","c":3,"x":40,"y":0.5},{"t":"RTN","c":3,"x":48,"y":2},{"t":"RTN","c":3,"x":52,"y":3.5},{"t":"RTN","c":3,"x":54,"y":2},{"t":"RTN","c":3,"x":56,"y":0.5},{"t":"RTN","c":3,"x":90,"y":0.3},{"t":"RTN","c":3,"x":147,"y":0.2}
],
"f_m":[{"m":"S0025","x":0},{"m":"SW1354","x":18},{"m":"SWR1078","x":29},{"m":"SW1369","x":43.8},{"m":"SW174","x":52.2},{"m":"S0066","x":58.6},{"m":"S0008","x":65.9},{"m":"SWR1928","x":73.6},{"m":"SW1614","x":79.5},{"m":"SW147","x":89.3},{"m":"SW252","x":95.5},{"m":"SW1083","x":103.5},{"m":"S0101","x":124.7},{"m":"SW764","x":147.5}],
"f_t":[{"k":"dot","y":16.5},{"k":"solid","y":14.2},{"k":"solid","y":13},{"k":"dash","y":7.8}],
"g":[
{"t":"TTN","c":1,"x":0,"y":0.3},{"t":"TTN","c":1,"x":5,"y":1.1},{"t":"TTN","c":1,"x":10,"y":2.3},{"t":"TTN","c":1,"x":16.9,"y":3.8},{"t":"TTN","c":1,"x":22,"y":4.8},{"t":"TTN","c":1,"x":29,"y":5.5},{"t":"TTN","c":1,"x":35.3,"y":6.4},{"t":"TTN","c":1,"x":40,"y":11.4},{"t":"TTN","c":1,"x":45.6,"y":15.4},{"t":"TTN","c":1,"x":48,"y":15.4},{"t":"TTN","c":1,"x":51.7,"y":14.4},{"t":"TTN","c":1,"x":55,"y":21},{"t":"TTN","c":1,"x":58,"y":23.5},{"t":"TTN","c":1,"x":61,"y":24},{"t":"TTN","c":1,"x":64.9,"y":23.3},{"t":"TTN","c":1,"x":68,"y":26},{"t":"TTN","c":1,"x":70,"y":26.5},{"t":"TTN","c":1,"x":72.9,"y":25.9},{"t":"TTN","c":1,"x":76,"y":28},{"t":"TTN","c":1,"x":80,"y":29},{"t":"TTN","c":1,"x":83.6,"y":27.5},{"t":"TTN","c":1,"x":86,"y":28.5},{"t":"TTN","c":1,"x":89.3,"y":28},{"t":"TTN","c":1,"x":93,"y":27.3},{"t":"TTN","c":1,"x":97,"y":23.7},{"t":"TTN","c":1,"x":100.7,"y":20.7},{"t":"TTN","c":1,"x":104,"y":22.5},{"t":"TTN","c":1,"x":108,"y":23.2},{"t":"TTN","c":1,"x":112,"y":21.7},{"t":"TTN","c":1,"x":116.2,"y":19},{"t":"TTN","c":1,"x":120,"y":18},{"t":"TTN","c":1,"x":124,"y":15.9},{"t":"TTN","c":1,"x":128,"y":12.9},{"t":"TTN","c":1,"x":132,"y":8.9},{"t":"TTN","c":1,"x":136,"y":4.8},{"t":"TTN","c":1,"x":140,"y":2.3},{"t":"TTN","c":1,"x":146.8,"y":0.6},
{"t":"LTN","c":1,"x":0,"y":0},{"t":"LTN","c":1,"x":5,"y":0.8},{"t":"LTN","c":1,"x":10,"y":1.3},{"t":"LTN","c":1,"x":16.9,"y":2.8},{"t":"LTN","c":1,"x":22,"y":4.3},{"t":"LTN","c":1,"x":29,"y":5.9},{"t":"LTN","c":1,"x":35.3,"y":6.9},{"t":"LTN","c":1,"x":40,"y":11.4},{"t":"LTN","c":1,"x":45.6,"y":14.2},{"t":"LTN","c":1,"x":48,"y":14.2},{"t":"LTN","c":1,"x":51.7,"y":13.4},{"t":"LTN","c":1,"x":55,"y":19},{"t":"LTN","c":1,"x":58,"y":21.3},{"t":"LTN","c":1,"x":61,"y":21.7},{"t":"LTN","c":1,"x":64.9,"y":22},{"t":"LTN","c":1,"x":68,"y":24},{"t":"LTN","c":1,"x":70,"y":24.5},{"t":"LTN","c":1,"x":72.9,"y":23.7},{"t":"LTN","c":1,"x":76,"y":26},{"t":"LTN","c":1,"x":80,"y":27},{"t":"LTN","c":1,"x":83.6,"y":26},{"t":"LTN","c":1,"x":86,"y":25.5},{"t":"LTN","c":1,"x":89.3,"y":23.3},{"t":"LTN","c":1,"x":93,"y":23.5},{"t":"LTN","c":1,"x":97,"y":21},{"t":"LTN","c":1,"x":100.7,"y":18.5},{"t":"LTN","c":1,"x":104,"y":20},{"t":"LTN","c":1,"x":108,"y":20.5},{"t":"LTN","c":1,"x":112,"y":18.7},{"t":"LTN","c":1,"x":116.2,"y":15.9},{"t":"LTN","c":1,"x":120,"y":14.4},{"t":"LTN","c":1,"x":124,"y":12.6},{"t":"LTN","c":1,"x":128,"y":9.6},{"t":"LTN","c":1,"x":132,"y":6.4},{"t":"LTN","c":1,"x":136,"y":3.5},{"t":"LTN","c":1,"x":140,"y":1.8},{"t":"LTN","c":1,"x":146.8,"y":0.8},
{"t":"RTN","c":1,"x":0,"y":0.8},{"t":"RTN","c":1,"x":5,"y":1.2},{"t":"RTN","c":1,"x":10,"y":1.9},{"t":"RTN","c":1,"x":16.9,"y":2.5},{"t":"RTN","c":1,"x":22,"y":2.5},{"t":"RTN","c":1,"x":29,"y":2},{"t":"RTN","c":1,"x":35.3,"y":2.3},{"t":"RTN","c":1,"x":40,"y":4.8},{"t":"RTN","c":1,"x":45.6,"y":7.6},{"t":"RTN","c":1,"x":48,"y":7.4},{"t":"RTN","c":1,"x":51.7,"y":6.4},{"t":"RTN","c":1,"x":55,"y":9.9},{"t":"RTN","c":1,"x":58,"y":11.6},{"t":"RTN","c":1,"x":61,"y":11.9},{"t":"RTN","c":1,"x":64.9,"y":10.9},{"t":"RTN","c":1,"x":68,"y":11.9},{"t":"RTN","c":1,"x":70,"y":12.2},{"t":"RTN","c":1,"x":72.9,"y":11.4},{"t":"RTN","c":1,"x":76,"y":12.4},{"t":"RTN","c":1,"x":80,"y":12.4},{"t":"RTN","c":1,"x":83.6,"y":10.9},{"t":"RTN","c":1,"x":86,"y":11.9},{"t":"RTN","c":1,"x":89.3,"y":12.9},{"t":"RTN","c":1,"x":93,"y":11.9},{"t":"RTN","c":1,"x":97,"y":9.9},{"t":"RTN","c":1,"x":100.7,"y":7.9},{"t":"RTN","c":1,"x":104,"y":9.2},{"t":"RTN","c":1,"x":108,"y":10.1},{"t":"RTN","c":1,"x":112,"y":10.4},{"t":"RTN","c":1,"x":116.2,"y":9.4},{"t":"RTN","c":1,"x":120,"y":8.6},{"t":"RTN","c":1,"x":124,"y":7.2},{"t":"RTN","c":1,"x":128,"y":5.5},{"t":"RTN","c":1,"x":132,"y":3.8},{"t":"RTN","c":1,"x":136,"y":2.5},{"t":"RTN","c":1,"x":140,"y":1.5},{"t":"RTN","c":1,"x":146.8,"y":0.6}
],
"g_m":[{"m":"SW2410","x":0},{"m":"S0353","x":16.9},{"m":"SW1117","x":29},{"m":"SW1345","x":33},{"m":"S0091","x":35.3},{"m":"KS195","x":45.6},{"m":"SWR1101","x":51.7},{"m":"SW933","x":59.3},{"m":"SW1843","x":64.9},{"m":"SW916","x":72.9},{"m":"SW1679","x":77.5},{"m":"S0009","x":83.6},{"m":"SW374","x":89.3},{"m":"SW763","x":100.7},{"m":"SW790","x":116.2},{"m":"S0178","x":146.8}],
"g_t":[{"k":"dot","y":16.4},{"k":"solid","y":13.6},{"k":"solid","y":12.9},{"k":"dash","y":7.4}],
"h":[
{"t":"LTN","c":1,"x":0,"y":1.3},{"t":"LTN","c":1,"x":5,"y":1.9},{"t":"LTN","c":1,"x":10.5,"y":2.4},{"t":"LTN","c":1,"x":15,"y":4.8},{"t":"LTN","c":1,"x":20,"y":7.3},{"t":"LTN","c":1,"x":25,"y":9.3},{"t":"LTN","c":1,"x":30,"y":10.2},{"t":"LTN","c":1,"x":34,"y":10.6},{"t":"LTN","c":1,"x":37,"y":15.1},{"t":"LTN","c":1,"x":39.6,"y":16.4},{"t":"LTN","c":1,"x":44,"y":20.9},{"t":"LTN","c":1,"x":48,"y":23.9},{"t":"LTN","c":1,"x":52,"y":25.7},{"t":"LTN","c":1,"x":54,"y":26},{"t":"LTN","c":1,"x":57,"y":29.5},{"t":"LTN","c":1,"x":60,"y":31.8},{"t":"LTN","c":1,"x":63,"y":32.5},{"t":"LTN","c":1,"x":65.8,"y":31.5},{"t":"LTN","c":1,"x":69,"y":35.1},{"t":"LTN","c":1,"x":73,"y":37.6},{"t":"LTN","c":1,"x":77,"y":39.6},{"t":"LTN","c":1,"x":80,"y":39.8},{"t":"LTN","c":1,"x":83,"y":38.9},{"t":"LTN","c":1,"x":86,"y":37},
{"t":"RTN","c":1,"x":0,"y":2.6},{"t":"RTN","c":1,"x":5,"y":4.8},{"t":"RTN","c":1,"x":10.5,"y":7.3},{"t":"RTN","c":1,"x":15,"y":9.9},{"t":"RTN","c":1,"x":20,"y":12.5},{"t":"RTN","c":1,"x":25,"y":13.4},{"t":"RTN","c":1,"x":30,"y":14.1},{"t":"RTN","c":1,"x":34,"y":13.8},{"t":"RTN","c":1,"x":37,"y":16},{"t":"RTN","c":1,"x":40,"y":16.4},{"t":"RTN","c":1,"x":44,"y":18.3},{"t":"RTN","c":1,"x":48,"y":19.6},{"t":"RTN","c":1,"x":52,"y":20.5},{"t":"RTN","c":1,"x":54,"y":20.5},{"t":"RTN","c":1,"x":57,"y":21.1},{"t":"RTN","c":1,"x":60,"y":20.9},{"t":"RTN","c":1,"x":63,"y":20.2},{"t":"RTN","c":1,"x":65.8,"y":19},{"t":"RTN","c":1,"x":70,"y":20},{"t":"RTN","c":1,"x":75,"y":20.5},{"t":"RTN","c":1,"x":80,"y":20.5},{"t":"RTN","c":1,"x":86,"y":19.9},
{"t":"TTN","c":1,"x":0,"y":1.8},{"t":"TTN","c":1,"x":5,"y":3.5},{"t":"TTN","c":1,"x":10.5,"y":5.4},{"t":"TTN","c":1,"x":15,"y":7.3},{"t":"TTN","c":1,"x":20,"y":9.9},{"t":"TTN","c":1,"x":25,"y":11.5},{"t":"TTN","c":1,"x":30,"y":12.2},{"t":"TTN","c":1,"x":34,"y":12.2},{"t":"TTN","c":1,"x":37,"y":14.4},{"t":"TTN","c":1,"x":40,"y":15.1},{"t":"TTN","c":1,"x":44,"y":17.4},{"t":"TTN","c":1,"x":48,"y":19.2},{"t":"TTN","c":1,"x":52,"y":20.5},{"t":"TTN","c":1,"x":54,"y":21.1},{"t":"TTN","c":1,"x":57,"y":22.2},{"t":"TTN","c":1,"x":60,"y":22.6},{"t":"TTN","c":1,"x":63,"y":21.8},{"t":"TTN","c":1,"x":65.8,"y":20.5},{"t":"TTN","c":1,"x":70,"y":21.8},{"t":"TTN","c":1,"x":75,"y":23.5},{"t":"TTN","c":1,"x":80,"y":24.8},{"t":"TTN","c":1,"x":83,"y":25},{"t":"TTN","c":1,"x":86,"y":24.4}
],
"h_m":[{"m":"SW2401","x":0},{"m":"SW2494","x":10.5},{"m":"SW957","x":34},{"m":"SW1307","x":39.6},{"m":"SW874","x":54},{"m":"S0090","x":65.8},{"m":"SWC23","x":86}],
"h_t":[{"k":"dot","y":8},{"k":"solid","y":6.7},{"k":"solid","y":6.2},{"k":"dash","y":4.1}]
},
"concat":[
{"width":234,"height":116,"title":"(a)",
 "layer":[
  {"data":{"name":"a"},"mark":{"type":"line","strokeWidth":1,"interpolate":"monotone"},"encoding":{"x":{"field":"x","type":"quantitative","scale":{"domain":[0,160],"nice":false},"axis":{"values":[0,20,40,60,80,100,120,140,160]}},"y":{"field":"y","type":"quantitative","scale":{"domain":[0,30],"nice":false},"axis":{"values":[0,5,10,15,20,25,30]},"title":"F-Ratio"},"color":{"field":"t","type":"nominal","scale":{"domain":["RTN","LTN","TTN"],"range":["#ff00ff","#3b3bff","#ff0000"]},"legend":{"title":null,"orient":"none","legendX":152,"legendY":9}},"detail":{"field":"c","type":"nominal"}}},
  {"data":{"name":"a_t"},"transform":[{"filter":"datum.k != 'solid'"}],"mark":{"type":"rule","color":"#555","strokeWidth":0.8},"encoding":{"x":{"datum":0,"type":"quantitative","scale":{"domain":[0,160],"nice":false},"axis":{"values":[0,20,40,60,80,100,120,140,160]}},"x2":{"datum":160},"y":{"field":"y","type":"quantitative","scale":{"domain":[0,30],"nice":false},"axis":{"values":[0,5,10,15,20,25,30]},"title":"F-Ratio"},"strokeDash":{"field":"k","type":"nominal","scale":{"domain":["dot","dash"],"range":[[2,2],[7,2,1,2]]},"legend":null}}},
  {"data":{"name":"a_t"},"transform":[{"filter":"datum.k == 'solid'"}],"mark":{"type":"rule","color":"#888","strokeWidth":1.1},"encoding":{"x":{"datum":0,"type":"quantitative","scale":{"domain":[0,160],"nice":false},"axis":{"values":[0,20,40,60,80,100,120,140,160]}},"x2":{"datum":160},"y":{"field":"y","type":"quantitative","scale":{"domain":[0,30],"nice":false},"axis":{"values":[0,5,10,15,20,25,30]},"title":"F-Ratio"}}},
  {"data":{"name":"a"},"transform":[{"filter":"datum.t != 'TTN'"}],"mark":{"type":"point","filled":false,"size":8,"strokeWidth":0.8,"opacity":1},"encoding":{"x":{"field":"x","type":"quantitative","scale":{"domain":[0,160],"nice":false},"axis":{"values":[0,20,40,60,80,100,120,140,160]}},"y":{"field":"y","type":"quantitative","scale":{"domain":[0,30],"nice":false},"axis":{"values":[0,5,10,15,20,25,30]},"title":"F-Ratio"},"shape":{"field":"t","type":"nominal","scale":{"domain":["RTN","LTN"],"range":["circle","M-1,-1L1,1M-1,1L1,-1"]},"legend":null},"stroke":{"field":"t","type":"nominal","scale":{"domain":["RTN","LTN"],"range":["#ff00ff","#6a6aff"]},"legend":null}}},
  {"data":{"name":"a_m"},"mark":{"type":"point","shape":"triangle-up","filled":true,"color":"black","size":25,"opacity":1},"encoding":{"x":{"field":"x","type":"quantitative","scale":{"domain":[0,160],"nice":false},"axis":{"values":[0,20,40,60,80,100,120,140,160]}},"y":{"datum":0,"type":"quantitative","scale":{"domain":[0,30],"nice":false},"axis":{"values":[0,5,10,15,20,25,30]},"title":"F-Ratio"}}},
  {"data":{"name":"a_m"},"mark":{"type":"text","angle":270,"align":"right","baseline":"middle","dx":-14,"fontSize":7},"encoding":{"x":{"field":"x","type":"quantitative","scale":{"domain":[0,160],"nice":false},"axis":{"values":[0,20,40,60,80,100,120,140,160]}},"y":{"datum":0,"type":"quantitative","scale":{"domain":[0,30],"nice":false},"axis":{"values":[0,5,10,15,20,25,30]},"title":"F-Ratio"},"text":{"field":"m"}}},
  {"data":{"values":[{"s":"SSC1"}]},"mark":{"type":"text","align":"left","baseline":"middle","fontSize":8},"encoding":{"x":{"datum":15.4,"type":"quantitative","scale":{"domain":[0,160],"nice":false},"axis":{"values":[0,20,40,60,80,100,120,140,160]}},"y":{"datum":26.8,"type":"quantitative","scale":{"domain":[0,30],"nice":false},"axis":{"values":[0,5,10,15,20,25,30]},"title":"F-Ratio"},"text":{"field":"s"}}}
 ]},
{"width":234,"height":116,"title":"(b)",
 "layer":[
  {"data":{"name":"b"},"mark":{"type":"line","strokeWidth":1,"interpolate":"monotone"},"encoding":{"x":{"field":"x","type":"quantitative","scale":{"domain":[0,140],"nice":false},"axis":{"values":[0,20,40,60,80,100,120,140]}},"y":{"field":"y","type":"quantitative","scale":{"domain":[0,45],"nice":false},"axis":{"values":[0,5,10,15,20,25,30,35,40,45]},"title":"F-Ratio"},"color":{"field":"t","type":"nominal","scale":{"domain":["RTN","LTN","TTN"],"range":["#ff00ff","#3b3bff","#ff0000"]},"legend":{"title":null,"orient":"none","legendX":186,"legendY":16}},"detail":{"field":"c","type":"nominal"}}},
  {"data":{"name":"b_t"},"transform":[{"filter":"datum.k != 'solid'"}],"mark":{"type":"rule","color":"#555","strokeWidth":0.8},"encoding":{"x":{"datum":0,"type":"quantitative","scale":{"domain":[0,140],"nice":false},"axis":{"values":[0,20,40,60,80,100,120,140]}},"x2":{"datum":140},"y":{"field":"y","type":"quantitative","scale":{"domain":[0,45],"nice":false},"axis":{"values":[0,5,10,15,20,25,30,35,40,45]},"title":"F-Ratio"},"strokeDash":{"field":"k","type":"nominal","scale":{"domain":["dot","dash"],"range":[[2,2],[7,2,1,2]]},"legend":null}}},
  {"data":{"name":"b_t"},"transform":[{"filter":"datum.k == 'solid'"}],"mark":{"type":"rule","color":"#888","strokeWidth":1.1},"encoding":{"x":{"datum":0,"type":"quantitative","scale":{"domain":[0,140],"nice":false},"axis":{"values":[0,20,40,60,80,100,120,140]}},"x2":{"datum":140},"y":{"field":"y","type":"quantitative","scale":{"domain":[0,45],"nice":false},"axis":{"values":[0,5,10,15,20,25,30,35,40,45]},"title":"F-Ratio"}}},
  {"data":{"name":"b"},"transform":[{"filter":"datum.t != 'TTN'"}],"mark":{"type":"point","filled":false,"size":8,"strokeWidth":0.8,"opacity":1},"encoding":{"x":{"field":"x","type":"quantitative","scale":{"domain":[0,140],"nice":false},"axis":{"values":[0,20,40,60,80,100,120,140]}},"y":{"field":"y","type":"quantitative","scale":{"domain":[0,45],"nice":false},"axis":{"values":[0,5,10,15,20,25,30,35,40,45]},"title":"F-Ratio"},"shape":{"field":"t","type":"nominal","scale":{"domain":["RTN","LTN"],"range":["circle","M-1,-1L1,1M-1,1L1,-1"]},"legend":null},"stroke":{"field":"t","type":"nominal","scale":{"domain":["RTN","LTN"],"range":["#ff00ff","#6a6aff"]},"legend":null}}},
  {"data":{"name":"b_m"},"mark":{"type":"point","shape":"triangle-up","filled":true,"color":"black","size":25,"opacity":1},"encoding":{"x":{"field":"x","type":"quantitative","scale":{"domain":[0,140],"nice":false},"axis":{"values":[0,20,40,60,80,100,120,140]}},"y":{"datum":0,"type":"quantitative","scale":{"domain":[0,45],"nice":false},"axis":{"values":[0,5,10,15,20,25,30,35,40,45]},"title":"F-Ratio"}}},
  {"data":{"name":"b_m"},"mark":{"type":"text","angle":270,"align":"right","baseline":"middle","dx":-14,"fontSize":7},"encoding":{"x":{"field":"x","type":"quantitative","scale":{"domain":[0,140],"nice":false},"axis":{"values":[0,20,40,60,80,100,120,140]}},"y":{"datum":0,"type":"quantitative","scale":{"domain":[0,45],"nice":false},"axis":{"values":[0,5,10,15,20,25,30,35,40,45]},"title":"F-Ratio"},"text":{"field":"m"}}},
  {"data":{"values":[{"s":"SSC3"}]},"mark":{"type":"text","align":"left","baseline":"middle","fontSize":8},"encoding":{"x":{"datum":15,"type":"quantitative","scale":{"domain":[0,140],"nice":false},"axis":{"values":[0,20,40,60,80,100,120,140]}},"y":{"datum":40.5,"type":"quantitative","scale":{"domain":[0,45],"nice":false},"axis":{"values":[0,5,10,15,20,25,30,35,40,45]},"title":"F-Ratio"},"text":{"field":"s"}}}
 ]},
{"width":234,"height":116,"title":"(c)",
 "layer":[
  {"data":{"name":"c"},"mark":{"type":"line","strokeWidth":1,"interpolate":"monotone"},"encoding":{"x":{"field":"x","type":"quantitative","scale":{"domain":[0,140],"nice":false},"axis":{"values":[0,20,40,60,80,100,120,140]}},"y":{"field":"y","type":"quantitative","scale":{"domain":[0,50],"nice":false},"axis":{"values":[0,5,10,15,20,25,30,35,40,45,50]},"title":"F-Ratio"},"color":{"field":"t","type":"nominal","scale":{"domain":["RTN","LTN","TTN"],"range":["#ff00ff","#3b3bff","#ff0000"]},"legend":{"title":null,"orient":"none","legendX":197,"legendY":7}},"detail":{"field":"c","type":"nominal"}}},
  {"data":{"name":"c_t"},"transform":[{"filter":"datum.k != 'solid'"}],"mark":{"type":"rule","color":"#555","strokeWidth":0.8},"encoding":{"x":{"datum":0,"type":"quantitative","scale":{"domain":[0,140],"nice":false},"axis":{"values":[0,20,40,60,80,100,120,140]}},"x2":{"datum":140},"y":{"field":"y","type":"quantitative","scale":{"domain":[0,50],"nice":false},"axis":{"values":[0,5,10,15,20,25,30,35,40,45,50]},"title":"F-Ratio"},"strokeDash":{"field":"k","type":"nominal","scale":{"domain":["dot","dash"],"range":[[2,2],[7,2,1,2]]},"legend":null}}},
  {"data":{"name":"c_t"},"transform":[{"filter":"datum.k == 'solid'"}],"mark":{"type":"rule","color":"#888","strokeWidth":1.1},"encoding":{"x":{"datum":0,"type":"quantitative","scale":{"domain":[0,140],"nice":false},"axis":{"values":[0,20,40,60,80,100,120,140]}},"x2":{"datum":140},"y":{"field":"y","type":"quantitative","scale":{"domain":[0,50],"nice":false},"axis":{"values":[0,5,10,15,20,25,30,35,40,45,50]},"title":"F-Ratio"}}},
  {"data":{"name":"c"},"transform":[{"filter":"datum.t != 'TTN'"}],"mark":{"type":"point","filled":false,"size":8,"strokeWidth":0.8,"opacity":1},"encoding":{"x":{"field":"x","type":"quantitative","scale":{"domain":[0,140],"nice":false},"axis":{"values":[0,20,40,60,80,100,120,140]}},"y":{"field":"y","type":"quantitative","scale":{"domain":[0,50],"nice":false},"axis":{"values":[0,5,10,15,20,25,30,35,40,45,50]},"title":"F-Ratio"},"shape":{"field":"t","type":"nominal","scale":{"domain":["RTN","LTN"],"range":["circle","M-1,-1L1,1M-1,1L1,-1"]},"legend":null},"stroke":{"field":"t","type":"nominal","scale":{"domain":["RTN","LTN"],"range":["#ff00ff","#6a6aff"]},"legend":null}}},
  {"data":{"name":"c_m"},"mark":{"type":"point","shape":"triangle-up","filled":true,"color":"black","size":25,"opacity":1},"encoding":{"x":{"field":"x","type":"quantitative","scale":{"domain":[0,140],"nice":false},"axis":{"values":[0,20,40,60,80,100,120,140]}},"y":{"datum":0,"type":"quantitative","scale":{"domain":[0,50],"nice":false},"axis":{"values":[0,5,10,15,20,25,30,35,40,45,50]},"title":"F-Ratio"}}},
  {"data":{"name":"c_m"},"mark":{"type":"text","angle":270,"align":"right","baseline":"middle","dx":-14,"fontSize":7},"encoding":{"x":{"field":"x","type":"quantitative","scale":{"domain":[0,140],"nice":false},"axis":{"values":[0,20,40,60,80,100,120,140]}},"y":{"datum":0,"type":"quantitative","scale":{"domain":[0,50],"nice":false},"axis":{"values":[0,5,10,15,20,25,30,35,40,45,50]},"title":"F-Ratio"},"text":{"field":"m"}}},
  {"data":{"values":[{"s":"SSC4"}]},"mark":{"type":"text","align":"left","baseline":"middle","fontSize":8},"encoding":{"x":{"datum":5.4,"type":"quantitative","scale":{"domain":[0,140],"nice":false},"axis":{"values":[0,20,40,60,80,100,120,140]}},"y":{"datum":45.4,"type":"quantitative","scale":{"domain":[0,50],"nice":false},"axis":{"values":[0,5,10,15,20,25,30,35,40,45,50]},"title":"F-Ratio"},"text":{"field":"s"}}}
 ]},
{"width":234,"height":116,"title":"(d)",
 "layer":[
  {"data":{"name":"d"},"mark":{"type":"line","strokeWidth":1,"interpolate":"monotone"},"encoding":{"x":{"field":"x","type":"quantitative","scale":{"domain":[0,120],"nice":false},"axis":{"values":[0,20,40,60,80,100,120]}},"y":{"field":"y","type":"quantitative","scale":{"domain":[0,50],"nice":false},"axis":{"values":[0,5,10,15,20,25,30,35,40,45,50]},"title":"F-Ratio"},"color":{"field":"t","type":"nominal","scale":{"domain":["RTN","LTN","TTN"],"range":["#ff00ff","#3b3bff","#ff0000"]},"legend":{"title":null,"orient":"none","legendX":202,"legendY":10}},"detail":{"field":"c","type":"nominal"}}},
  {"data":{"name":"d_t"},"transform":[{"filter":"datum.k != 'solid'"}],"mark":{"type":"rule","color":"#555","strokeWidth":0.8},"encoding":{"x":{"datum":0,"type":"quantitative","scale":{"domain":[0,120],"nice":false},"axis":{"values":[0,20,40,60,80,100,120]}},"x2":{"datum":120},"y":{"field":"y","type":"quantitative","scale":{"domain":[0,50],"nice":false},"axis":{"values":[0,5,10,15,20,25,30,35,40,45,50]},"title":"F-Ratio"},"strokeDash":{"field":"k","type":"nominal","scale":{"domain":["dot","dash"],"range":[[2,2],[7,2,1,2]]},"legend":null}}},
  {"data":{"name":"d_t"},"transform":[{"filter":"datum.k == 'solid'"}],"mark":{"type":"rule","color":"#888","strokeWidth":1.1},"encoding":{"x":{"datum":0,"type":"quantitative","scale":{"domain":[0,120],"nice":false},"axis":{"values":[0,20,40,60,80,100,120]}},"x2":{"datum":120},"y":{"field":"y","type":"quantitative","scale":{"domain":[0,50],"nice":false},"axis":{"values":[0,5,10,15,20,25,30,35,40,45,50]},"title":"F-Ratio"}}},
  {"data":{"name":"d"},"transform":[{"filter":"datum.t != 'TTN'"}],"mark":{"type":"point","filled":false,"size":8,"strokeWidth":0.8,"opacity":1},"encoding":{"x":{"field":"x","type":"quantitative","scale":{"domain":[0,120],"nice":false},"axis":{"values":[0,20,40,60,80,100,120]}},"y":{"field":"y","type":"quantitative","scale":{"domain":[0,50],"nice":false},"axis":{"values":[0,5,10,15,20,25,30,35,40,45,50]},"title":"F-Ratio"},"shape":{"field":"t","type":"nominal","scale":{"domain":["RTN","LTN"],"range":["circle","M-1,-1L1,1M-1,1L1,-1"]},"legend":null},"stroke":{"field":"t","type":"nominal","scale":{"domain":["RTN","LTN"],"range":["#ff00ff","#6a6aff"]},"legend":null}}},
  {"data":{"name":"d_m"},"mark":{"type":"point","shape":"triangle-up","filled":true,"color":"black","size":25,"opacity":1},"encoding":{"x":{"field":"x","type":"quantitative","scale":{"domain":[0,120],"nice":false},"axis":{"values":[0,20,40,60,80,100,120]}},"y":{"datum":0,"type":"quantitative","scale":{"domain":[0,50],"nice":false},"axis":{"values":[0,5,10,15,20,25,30,35,40,45,50]},"title":"F-Ratio"}}},
  {"data":{"name":"d_m"},"mark":{"type":"text","angle":270,"align":"right","baseline":"middle","dx":-14,"fontSize":7},"encoding":{"x":{"field":"x","type":"quantitative","scale":{"domain":[0,120],"nice":false},"axis":{"values":[0,20,40,60,80,100,120]}},"y":{"datum":0,"type":"quantitative","scale":{"domain":[0,50],"nice":false},"axis":{"values":[0,5,10,15,20,25,30,35,40,45,50]},"title":"F-Ratio"},"text":{"field":"m"}}},
  {"data":{"values":[{"s":"SSC5"}]},"mark":{"type":"text","align":"left","baseline":"middle","fontSize":8},"encoding":{"x":{"datum":13.3,"type":"quantitative","scale":{"domain":[0,120],"nice":false},"axis":{"values":[0,20,40,60,80,100,120]}},"y":{"datum":44,"type":"quantitative","scale":{"domain":[0,50],"nice":false},"axis":{"values":[0,5,10,15,20,25,30,35,40,45,50]},"title":"F-Ratio"},"text":{"field":"s"}}}
 ]},
{"width":234,"height":116,"title":"(e)",
 "layer":[
  {"data":{"name":"e"},"mark":{"type":"line","strokeWidth":1,"interpolate":"monotone"},"encoding":{"x":{"field":"x","type":"quantitative","scale":{"domain":[0,200],"nice":false},"axis":{"values":[0,20,40,60,80,100,120,140,160,180,200]}},"y":{"field":"y","type":"quantitative","scale":{"domain":[0,25],"nice":false},"axis":{"values":[0,5,10,15,20,25]},"title":"F-Ratio"},"color":{"field":"t","type":"nominal","scale":{"domain":["RTN","LTN","TTN"],"range":["#ff00ff","#3b3bff","#ff0000"]},"legend":{"title":null,"orient":"none","legendX":204,"legendY":0}},"detail":{"field":"c","type":"nominal"}}},
  {"data":{"name":"e_t"},"transform":[{"filter":"datum.k != 'solid'"}],"mark":{"type":"rule","color":"#555","strokeWidth":0.8},"encoding":{"x":{"datum":0,"type":"quantitative","scale":{"domain":[0,200],"nice":false},"axis":{"values":[0,20,40,60,80,100,120,140,160,180,200]}},"x2":{"datum":200},"y":{"field":"y","type":"quantitative","scale":{"domain":[0,25],"nice":false},"axis":{"values":[0,5,10,15,20,25]},"title":"F-Ratio"},"strokeDash":{"field":"k","type":"nominal","scale":{"domain":["dot","dash"],"range":[[2,2],[7,2,1,2]]},"legend":null}}},
  {"data":{"name":"e_t"},"transform":[{"filter":"datum.k == 'solid'"}],"mark":{"type":"rule","color":"#888","strokeWidth":1.1},"encoding":{"x":{"datum":0,"type":"quantitative","scale":{"domain":[0,200],"nice":false},"axis":{"values":[0,20,40,60,80,100,120,140,160,180,200]}},"x2":{"datum":200},"y":{"field":"y","type":"quantitative","scale":{"domain":[0,25],"nice":false},"axis":{"values":[0,5,10,15,20,25]},"title":"F-Ratio"}}},
  {"data":{"name":"e"},"transform":[{"filter":"datum.t != 'TTN'"}],"mark":{"type":"point","filled":false,"size":8,"strokeWidth":0.8,"opacity":1},"encoding":{"x":{"field":"x","type":"quantitative","scale":{"domain":[0,200],"nice":false},"axis":{"values":[0,20,40,60,80,100,120,140,160,180,200]}},"y":{"field":"y","type":"quantitative","scale":{"domain":[0,25],"nice":false},"axis":{"values":[0,5,10,15,20,25]},"title":"F-Ratio"},"shape":{"field":"t","type":"nominal","scale":{"domain":["RTN","LTN"],"range":["circle","M-1,-1L1,1M-1,1L1,-1"]},"legend":null},"stroke":{"field":"t","type":"nominal","scale":{"domain":["RTN","LTN"],"range":["#ff00ff","#6a6aff"]},"legend":null}}},
  {"data":{"name":"e_m"},"mark":{"type":"point","shape":"triangle-up","filled":true,"color":"black","size":25,"opacity":1},"encoding":{"x":{"field":"x","type":"quantitative","scale":{"domain":[0,200],"nice":false},"axis":{"values":[0,20,40,60,80,100,120,140,160,180,200]}},"y":{"datum":0,"type":"quantitative","scale":{"domain":[0,25],"nice":false},"axis":{"values":[0,5,10,15,20,25]},"title":"F-Ratio"}}},
  {"data":{"name":"e_m"},"mark":{"type":"text","angle":270,"align":"right","baseline":"middle","dx":-14,"fontSize":7},"encoding":{"x":{"field":"x","type":"quantitative","scale":{"domain":[0,200],"nice":false},"axis":{"values":[0,20,40,60,80,100,120,140,160,180,200]}},"y":{"datum":0,"type":"quantitative","scale":{"domain":[0,25],"nice":false},"axis":{"values":[0,5,10,15,20,25]},"title":"F-Ratio"},"text":{"field":"m"}}},
  {"data":{"values":[{"s":"SSC6"}]},"mark":{"type":"text","align":"left","baseline":"middle","fontSize":8},"encoding":{"x":{"datum":17.6,"type":"quantitative","scale":{"domain":[0,200],"nice":false},"axis":{"values":[0,20,40,60,80,100,120,140,160,180,200]}},"y":{"datum":23.7,"type":"quantitative","scale":{"domain":[0,25],"nice":false},"axis":{"values":[0,5,10,15,20,25]},"title":"F-Ratio"},"text":{"field":"s"}}}
 ]},
{"width":234,"height":116,"title":"(f)",
 "layer":[
  {"data":{"name":"f"},"mark":{"type":"line","strokeWidth":1,"interpolate":"monotone"},"encoding":{"x":{"field":"x","type":"quantitative","scale":{"domain":[0,160],"nice":false},"axis":{"values":[0,20,40,60,80,100,120,140,160]}},"y":{"field":"y","type":"quantitative","scale":{"domain":[0,90],"nice":false},"axis":{"values":[0,10,20,30,40,50,60,70,80,90]},"title":"F-Ratio"},"color":{"field":"t","type":"nominal","scale":{"domain":["RTN","LTN","TTN"],"range":["#ff00ff","#3b3bff","#ff0000"]},"legend":{"title":null,"orient":"none","legendX":194,"legendY":8}},"detail":{"field":"c","type":"nominal"}}},
  {"data":{"name":"f_t"},"transform":[{"filter":"datum.k != 'solid'"}],"mark":{"type":"rule","color":"#555","strokeWidth":0.8},"encoding":{"x":{"datum":0,"type":"quantitative","scale":{"domain":[0,160],"nice":false},"axis":{"values":[0,20,40,60,80,100,120,140,160]}},"x2":{"datum":160},"y":{"field":"y","type":"quantitative","scale":{"domain":[0,90],"nice":false},"axis":{"values":[0,10,20,30,40,50,60,70,80,90]},"title":"F-Ratio"},"strokeDash":{"field":"k","type":"nominal","scale":{"domain":["dot","dash"],"range":[[2,2],[7,2,1,2]]},"legend":null}}},
  {"data":{"name":"f_t"},"transform":[{"filter":"datum.k == 'solid'"}],"mark":{"type":"rule","color":"#888","strokeWidth":1.1},"encoding":{"x":{"datum":0,"type":"quantitative","scale":{"domain":[0,160],"nice":false},"axis":{"values":[0,20,40,60,80,100,120,140,160]}},"x2":{"datum":160},"y":{"field":"y","type":"quantitative","scale":{"domain":[0,90],"nice":false},"axis":{"values":[0,10,20,30,40,50,60,70,80,90]},"title":"F-Ratio"}}},
  {"data":{"name":"f"},"transform":[{"filter":"datum.t != 'TTN'"}],"mark":{"type":"point","filled":false,"size":8,"strokeWidth":0.8,"opacity":1},"encoding":{"x":{"field":"x","type":"quantitative","scale":{"domain":[0,160],"nice":false},"axis":{"values":[0,20,40,60,80,100,120,140,160]}},"y":{"field":"y","type":"quantitative","scale":{"domain":[0,90],"nice":false},"axis":{"values":[0,10,20,30,40,50,60,70,80,90]},"title":"F-Ratio"},"shape":{"field":"t","type":"nominal","scale":{"domain":["RTN","LTN"],"range":["circle","M-1,-1L1,1M-1,1L1,-1"]},"legend":null},"stroke":{"field":"t","type":"nominal","scale":{"domain":["RTN","LTN"],"range":["#ff00ff","#6a6aff"]},"legend":null}}},
  {"data":{"name":"f_m"},"mark":{"type":"point","shape":"triangle-up","filled":true,"color":"black","size":25,"opacity":1},"encoding":{"x":{"field":"x","type":"quantitative","scale":{"domain":[0,160],"nice":false},"axis":{"values":[0,20,40,60,80,100,120,140,160]}},"y":{"datum":0,"type":"quantitative","scale":{"domain":[0,90],"nice":false},"axis":{"values":[0,10,20,30,40,50,60,70,80,90]},"title":"F-Ratio"}}},
  {"data":{"name":"f_m"},"mark":{"type":"text","angle":270,"align":"right","baseline":"middle","dx":-14,"fontSize":7},"encoding":{"x":{"field":"x","type":"quantitative","scale":{"domain":[0,160],"nice":false},"axis":{"values":[0,20,40,60,80,100,120,140,160]}},"y":{"datum":0,"type":"quantitative","scale":{"domain":[0,90],"nice":false},"axis":{"values":[0,10,20,30,40,50,60,70,80,90]},"title":"F-Ratio"},"text":{"field":"m"}}},
  {"data":{"values":[{"s":"SSC7"}]},"mark":{"type":"text","align":"left","baseline":"middle","fontSize":8},"encoding":{"x":{"datum":17.1,"type":"quantitative","scale":{"domain":[0,160],"nice":false},"axis":{"values":[0,20,40,60,80,100,120,140,160]}},"y":{"datum":80.5,"type":"quantitative","scale":{"domain":[0,90],"nice":false},"axis":{"values":[0,10,20,30,40,50,60,70,80,90]},"title":"F-Ratio"},"text":{"field":"s"}}}
 ]},
{"width":234,"height":116,"title":"(g)",
 "layer":[
  {"data":{"name":"g"},"mark":{"type":"line","strokeWidth":1,"interpolate":"monotone"},"encoding":{"x":{"field":"x","type":"quantitative","scale":{"domain":[0,160],"nice":false},"axis":{"values":[0,20,40,60,80,100,120,140,160]}},"y":{"field":"y","type":"quantitative","scale":{"domain":[0,35],"nice":false},"axis":{"values":[0,5,10,15,20,25,30,35]},"title":"F-Ratio"},"color":{"field":"t","type":"nominal","scale":{"domain":["RTN","LTN","TTN"],"range":["#ff00ff","#3b3bff","#ff0000"]},"legend":{"title":null,"orient":"none","legendX":194,"legendY":5}},"detail":{"field":"c","type":"nominal"}}},
  {"data":{"name":"g_t"},"transform":[{"filter":"datum.k != 'solid'"}],"mark":{"type":"rule","color":"#555","strokeWidth":0.8},"encoding":{"x":{"datum":0,"type":"quantitative","scale":{"domain":[0,160],"nice":false},"axis":{"values":[0,20,40,60,80,100,120,140,160]}},"x2":{"datum":160},"y":{"field":"y","type":"quantitative","scale":{"domain":[0,35],"nice":false},"axis":{"values":[0,5,10,15,20,25,30,35]},"title":"F-Ratio"},"strokeDash":{"field":"k","type":"nominal","scale":{"domain":["dot","dash"],"range":[[2,2],[7,2,1,2]]},"legend":null}}},
  {"data":{"name":"g_t"},"transform":[{"filter":"datum.k == 'solid'"}],"mark":{"type":"rule","color":"#888","strokeWidth":1.1},"encoding":{"x":{"datum":0,"type":"quantitative","scale":{"domain":[0,160],"nice":false},"axis":{"values":[0,20,40,60,80,100,120,140,160]}},"x2":{"datum":160},"y":{"field":"y","type":"quantitative","scale":{"domain":[0,35],"nice":false},"axis":{"values":[0,5,10,15,20,25,30,35]},"title":"F-Ratio"}}},
  {"data":{"name":"g"},"transform":[{"filter":"datum.t != 'TTN'"}],"mark":{"type":"point","filled":false,"size":8,"strokeWidth":0.8,"opacity":1},"encoding":{"x":{"field":"x","type":"quantitative","scale":{"domain":[0,160],"nice":false},"axis":{"values":[0,20,40,60,80,100,120,140,160]}},"y":{"field":"y","type":"quantitative","scale":{"domain":[0,35],"nice":false},"axis":{"values":[0,5,10,15,20,25,30,35]},"title":"F-Ratio"},"shape":{"field":"t","type":"nominal","scale":{"domain":["RTN","LTN"],"range":["circle","M-1,-1L1,1M-1,1L1,-1"]},"legend":null},"stroke":{"field":"t","type":"nominal","scale":{"domain":["RTN","LTN"],"range":["#ff00ff","#6a6aff"]},"legend":null}}},
  {"data":{"name":"g_m"},"mark":{"type":"point","shape":"triangle-up","filled":true,"color":"black","size":25,"opacity":1},"encoding":{"x":{"field":"x","type":"quantitative","scale":{"domain":[0,160],"nice":false},"axis":{"values":[0,20,40,60,80,100,120,140,160]}},"y":{"datum":0,"type":"quantitative","scale":{"domain":[0,35],"nice":false},"axis":{"values":[0,5,10,15,20,25,30,35]},"title":"F-Ratio"}}},
  {"data":{"name":"g_m"},"mark":{"type":"text","angle":270,"align":"right","baseline":"middle","dx":-14,"fontSize":7},"encoding":{"x":{"field":"x","type":"quantitative","scale":{"domain":[0,160],"nice":false},"axis":{"values":[0,20,40,60,80,100,120,140,160]}},"y":{"datum":0,"type":"quantitative","scale":{"domain":[0,35],"nice":false},"axis":{"values":[0,5,10,15,20,25,30,35]},"title":"F-Ratio"},"text":{"field":"m"}}},
  {"data":{"values":[{"s":"SSC8"}]},"mark":{"type":"text","align":"left","baseline":"middle","fontSize":8},"encoding":{"x":{"datum":18.3,"type":"quantitative","scale":{"domain":[0,160],"nice":false},"axis":{"values":[0,20,40,60,80,100,120,140,160]}},"y":{"datum":31.4,"type":"quantitative","scale":{"domain":[0,35],"nice":false},"axis":{"values":[0,5,10,15,20,25,30,35]},"title":"F-Ratio"},"text":{"field":"s"}}}
 ]},
{"width":234,"height":116,"title":"(h)",
 "layer":[
  {"data":{"name":"h"},"mark":{"type":"line","strokeWidth":1,"interpolate":"monotone"},"encoding":{"x":{"field":"x","type":"quantitative","scale":{"domain":[0,100],"nice":false},"axis":{"values":[0,20,40,60,80,100]}},"y":{"field":"y","type":"quantitative","scale":{"domain":[0,45],"nice":false},"axis":{"values":[0,5,10,15,20,25,30,35,40,45]},"title":"F-Ratio"},"color":{"field":"t","type":"nominal","scale":{"domain":["RTN","LTN","TTN"],"range":["#ff00ff","#3b3bff","#ff0000"]},"legend":{"title":null,"orient":"none","legendX":209,"legendY":9}},"detail":{"field":"c","type":"nominal"}}},
  {"data":{"name":"h_t"},"transform":[{"filter":"datum.k != 'solid'"}],"mark":{"type":"rule","color":"#555","strokeWidth":0.8},"encoding":{"x":{"datum":0,"type":"quantitative","scale":{"domain":[0,100],"nice":false},"axis":{"values":[0,20,40,60,80,100]}},"x2":{"datum":100},"y":{"field":"y","type":"quantitative","scale":{"domain":[0,45],"nice":false},"axis":{"values":[0,5,10,15,20,25,30,35,40,45]},"title":"F-Ratio"},"strokeDash":{"field":"k","type":"nominal","scale":{"domain":["dot","dash"],"range":[[2,2],[7,2,1,2]]},"legend":null}}},
  {"data":{"name":"h_t"},"transform":[{"filter":"datum.k == 'solid'"}],"mark":{"type":"rule","color":"#888","strokeWidth":1.1},"encoding":{"x":{"datum":0,"type":"quantitative","scale":{"domain":[0,100],"nice":false},"axis":{"values":[0,20,40,60,80,100]}},"x2":{"datum":100},"y":{"field":"y","type":"quantitative","scale":{"domain":[0,45],"nice":false},"axis":{"values":[0,5,10,15,20,25,30,35,40,45]},"title":"F-Ratio"}}},
  {"data":{"name":"h"},"transform":[{"filter":"datum.t != 'TTN'"}],"mark":{"type":"point","filled":false,"size":8,"strokeWidth":0.8,"opacity":1},"encoding":{"x":{"field":"x","type":"quantitative","scale":{"domain":[0,100],"nice":false},"axis":{"values":[0,20,40,60,80,100]}},"y":{"field":"y","type":"quantitative","scale":{"domain":[0,45],"nice":false},"axis":{"values":[0,5,10,15,20,25,30,35,40,45]},"title":"F-Ratio"},"shape":{"field":"t","type":"nominal","scale":{"domain":["RTN","LTN"],"range":["circle","M-1,-1L1,1M-1,1L1,-1"]},"legend":null},"stroke":{"field":"t","type":"nominal","scale":{"domain":["RTN","LTN"],"range":["#ff00ff","#6a6aff"]},"legend":null}}},
  {"data":{"name":"h_m"},"mark":{"type":"point","shape":"triangle-up","filled":true,"color":"black","size":25,"opacity":1},"encoding":{"x":{"field":"x","type":"quantitative","scale":{"domain":[0,100],"nice":false},"axis":{"values":[0,20,40,60,80,100]}},"y":{"datum":0,"type":"quantitative","scale":{"domain":[0,45],"nice":false},"axis":{"values":[0,5,10,15,20,25,30,35,40,45]},"title":"F-Ratio"}}},
  {"data":{"name":"h_m"},"mark":{"type":"text","angle":270,"align":"right","baseline":"middle","dx":-14,"fontSize":7},"encoding":{"x":{"field":"x","type":"quantitative","scale":{"domain":[0,100],"nice":false},"axis":{"values":[0,20,40,60,80,100]}},"y":{"datum":0,"type":"quantitative","scale":{"domain":[0,45],"nice":false},"axis":{"values":[0,5,10,15,20,25,30,35,40,45]},"title":"F-Ratio"},"text":{"field":"m"}}},
  {"data":{"values":[{"s":"SSC12"}]},"mark":{"type":"text","align":"left","baseline":"middle","fontSize":8},"encoding":{"x":{"datum":10.7,"type":"quantitative","scale":{"domain":[0,100],"nice":false},"axis":{"values":[0,20,40,60,80,100]}},"y":{"datum":40.7,"type":"quantitative","scale":{"domain":[0,45],"nice":false},"axis":{"values":[0,5,10,15,20,25,30,35,40,45]},"title":"F-Ratio"},"text":{"field":"s"}}}
 ]}
]
}
